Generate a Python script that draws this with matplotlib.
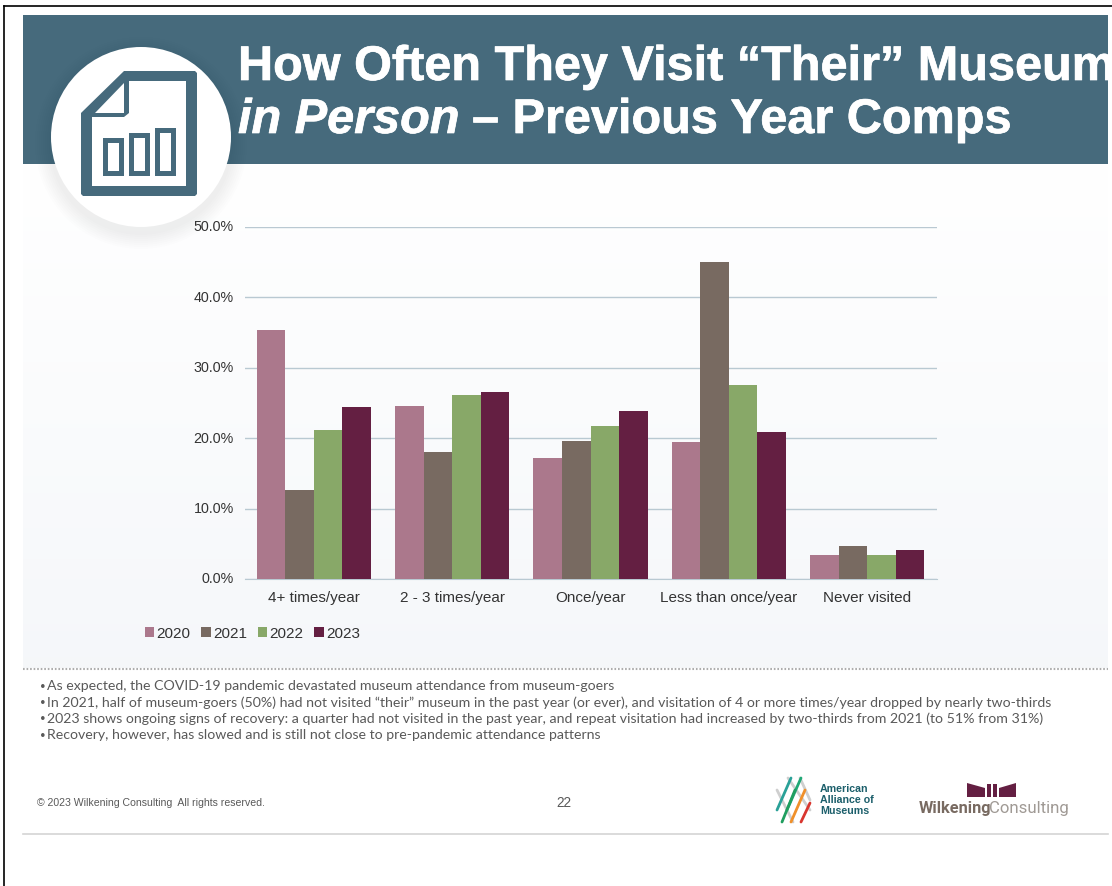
#!/usr/bin/env python3
"""Slide: how often visitors go to "their" museum in person, 2020-2023."""
import matplotlib
matplotlib.use("Agg")
import matplotlib.pyplot as plt
import matplotlib.patheffects as pe
import numpy as np
from matplotlib.patches import Circle, Polygon, Rectangle
from matplotlib.transforms import ScaledTranslation

W, H = 1112, 886
PAGE_R = 1108  # right edge of the slide content

categories = ["4+ times/year", "2 - 3 times/year", "Once/year", "Less than once/year", "Never visited"]
years = ["2020", "2021", "2022", "2023"]
v2020 = [35.3, 24.6, 17.2, 19.5, 3.4]
v2021 = [12.7, 18.1, 19.6, 45.0, 4.7]
v2022 = [21.1, 26.1, 21.8, 27.5, 3.4]
v2023 = [24.5, 26.6, 23.8, 20.9, 4.1]
yticks = [0, 10, 20, 30, 40, 50]

notes = [
    "As expected, the COVID-19 pandemic devastated museum attendance from museum-goers",
    "In 2021, half of museum-goers (50%) had not visited \u201ctheir\u201d museum in the past year (or ever), and visitation of 4 or more times/year dropped by nearly two-thirds",
    "2023 shows ongoing signs of recovery: a quarter had not visited in the past year, and repeat visitation had increased by two-thirds from 2021 (to 51% from 31%)",
    "Recovery, however, has slowed and is still not close to pre-pandemic attendance patterns",
]

BANNER = "#466a7c"
BAR_COLORS = ["#ab788c", "#786a61", "#88a868", "#641f42"]
ARIAL = "Liberation Sans"
TITLE_SIZE = 35

fig = plt.figure(figsize=(W / 100, H / 100), dpi=100, facecolor="white")

# page layer in pixel coordinates
page = fig.add_axes([0, 0, 1, 1])
page.axis("off")

# pale gradient behind the chart
grad = np.linspace(0, 1, 256).reshape(-1, 1, 1)
top = np.array([1.0, 1.0, 1.0])
bottom = np.array([0.962, 0.970, 0.980])
page.imshow(top + (bottom - top) * grad, extent=(23, PAGE_R, 668, 164), aspect="auto", zorder=0)
page.set_xlim(0, W)
page.set_ylim(H, 0)

banner = Rectangle((23, 15), PAGE_R - 23, 149, fc=BANNER, ec="none", zorder=1)
page.add_patch(banner)

# frame around the slide
page.plot([4, 4], [H, 5.5], color="black", lw=1.2, zorder=1)
page.plot([4, W], [5.5, 5.5], color="black", lw=1.2, zorder=1)

# title, cut off at the edge of the banner
heavy = [pe.withStroke(linewidth=0.5, foreground="white")]
title_kw = dict(color="white", fontsize=TITLE_SIZE, fontweight="bold", family=ARIAL, zorder=3, path_effects=heavy)
line1 = page.text(238, 80, "How Often They Visit \u201cTheir\u201d Museum", **title_kw)
line1.set_clip_path(banner)
page.text(238, 133, "in Person", style="italic", **title_kw)
page.text(472, 133, "\u2013 Previous Year Comps", **title_kw)

# circle badge with a soft shadow
for r in np.arange(106, 90, -2):
    page.add_patch(Circle((141, 143), r, fc="black", ec="none", alpha=0.008, zorder=2))
page.add_patch(Circle((141, 137), 90, fc="white", ec="none", zorder=3))

# document icon
page.add_patch(Polygon([(81, 113), (124, 71), (195, 71), (197, 73), (197, 194), (195, 196), (83, 196), (81, 194)],
                       closed=True, fc=BANNER, ec="none", zorder=4))
page.add_patch(Polygon([(129, 81), (186, 81), (186, 186), (92, 186), (92, 117), (124, 117), (129, 113)],
                       closed=True, fc="white", ec="none", zorder=5))
page.add_patch(Polygon([(95, 113), (124, 83), (124, 113)], closed=True, fc="white", ec="none", zorder=5))
for x0, y0, x1 in [(102.5, 138, 124), (129, 133, 150), (155, 128, 176)]:
    page.add_patch(Rectangle((x0, y0), x1 - x0, 175.5 - y0, fc=BANNER, ec="none", zorder=6))
    page.add_patch(Rectangle((x0 + 5, y0 + 5), x1 - x0 - 10, 170.5 - y0 - 5, fc="white", ec="none", zorder=7))

# dotted divider and footer rule
page.plot([23, PAGE_R], [668.5, 668.5], color="#adadad", lw=1.5, ls=(0, (0.8, 0.9)), zorder=1)
page.plot([23, PAGE_R], [834, 834], color="#d4d4d4", lw=1.2, zorder=1)

for i, note in enumerate(notes):
    y = 686 + i * 16.4
    page.text(40, y, "\u2022", color="#595959", fontsize=7, va="center", family="Lato")
    page.text(47, y, note, color="#595959", fontsize=10.13, va="center", family="Lato")

page.text(37, 803, "\u00a9 2023 Wilkening Consulting  All rights reserved.", color="#595959", fontsize=7.6,
          va="center", family=ARIAL)
page.text(564, 803, "22", color="#595959", fontsize=9.8, va="center", ha="center", family=ARIAL)

# AAM logo: crossed strokes and wordmark
for xs, ys, c in [
    ((777, 793), (790, 822), "#cfcfcf"), ((788, 810), (778, 810), "#cfcfcf"), ((800, 810), (778, 800), "#cfcfcf"),
    ((791, 777), (778, 810), "#2aa198"), ((801, 787), (778, 810), "#21a876"), ((795, 782), (790, 822), "#1f9e5f"),
    ((805, 791), (790, 822), "#f0902a"), ((810, 801), (803, 822), "#d9362f"),
]:
    page.plot(xs, ys, color=c, lw=2, solid_capstyle="round", zorder=2)
for y, line in zip([789, 800, 811], ["American", "Alliance of", "Museums"]):
    page.text(820, y, line, color="#1c5f6b", fontsize=7.7, fontweight="bold", va="center", family=ARIAL)

# Wilkening logo: open book mark and wordmark
page.add_patch(Polygon([(967, 783), (985, 788), (985, 797), (967, 797)], closed=True, fc="#641f42", ec="none"))
page.add_patch(Polygon([(999, 788), (1016, 783), (1016, 797), (999, 797)], closed=True, fc="#641f42", ec="none"))
page.add_patch(Rectangle((987, 784), 3.5, 13, fc="#641f42", ec="none"))
page.add_patch(Rectangle((993, 784), 4, 13, fc="#641f42", ec="none"))
page.text(919, 809, "Wilkening", color="#786a61", fontsize=11.8, va="center", family="Roboto", fontweight="bold")
page.text(989, 809, "Consulting", color="#a09a95", fontsize=12.1, va="center", family="Roboto")

# bar chart
ax = fig.add_axes([244.5 / W, 1 - 579 / H, (936.5 - 244.5) / W, (579 - 227) / H])
ax.patch.set_alpha(0)
x = np.arange(len(categories))
bar_w = 0.206
series = [v2020, v2021, v2022, v2023]
for i, (year, vals) in enumerate(zip(years, series)):
    ax.bar(x + (i - 1.5) * bar_w, vals, width=bar_w, color=BAR_COLORS[i], label=year, zorder=3)

ax.set_xlim(-0.5, len(categories) - 0.5)
ax.set_ylim(0, 50)
ax.set_yticks(yticks)
ax.set_yticklabels([f"{v:.1f}%" for v in yticks], family=ARIAL, fontsize=10.3, color="#333333")
ax.set_xticks(x)
ax.set_xticklabels(categories, family=ARIAL, fontsize=11, color="#333333")
ax.tick_params(axis="both", length=0)
ax.tick_params(axis="x", pad=8.5)
ax.tick_params(axis="y", pad=7.8)
nudge = ScaledTranslation(0, 0.8 / 72, fig.dpi_scale_trans)
for lbl in ax.get_yticklabels():
    lbl.set_transform(lbl.get_transform() + nudge)
ax.grid(axis="y", color="#b9c9d2", lw=1, zorder=0)
ax.set_axisbelow(True)
for side in ["top", "right", "left"]:
    ax.spines[side].set_visible(False)
ax.spines["bottom"].set_color("#b9c9d2")

ax.legend(loc="center left", bbox_to_anchor=(145 / W, 1 - 633.5 / H), bbox_transform=fig.transFigure,
          ncol=4, frameon=False, handlelength=0.6, handleheight=0.6, handletextpad=0.15,
          columnspacing=0.72, borderpad=0, borderaxespad=0,
          prop={"family": ARIAL, "size": 11}, labelcolor="#333333")

fig.savefig("out.png", dpi=100)
